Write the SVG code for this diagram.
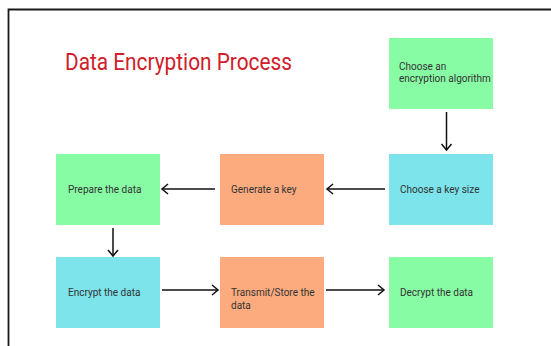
<svg xmlns="http://www.w3.org/2000/svg" width="551" height="346" viewBox="0 0 551 346">
  <style>
    .green { fill: #88fca4; }
    .orange { fill: #fbab7e; }
    .cyan { fill: #7ce4ea; }
    .label { font-family: Roboto, "Liberation Sans", sans-serif; font-size: 10px; fill: #333333; }
    .title { font-family: Roboto, "Liberation Sans", sans-serif; font-size: 24px; fill: #d0202a; }
    .frame { fill: none; stroke: #1a1a1a; stroke-width: 1.8; }
    .link { fill: none; stroke: #111111; stroke-width: 1.5; marker-end: url(#head); }
  </style>
  <defs>
    <marker id="head" viewBox="-8 -7 10 14" refX="0" refY="0" markerWidth="10" markerHeight="14" markerUnits="userSpaceOnUse" orient="auto">
      <path d="M-6,-5 L0,0 L-6,5" fill="none" stroke="#111111" stroke-width="1.5"/>
    </marker>
  </defs>

  <rect width="551" height="346" fill="#ffffff"/>
  <path class="frame" d="M8.5,346 V9.5 H551"/>

  <text class="title" x="65" y="70" textLength="227" lengthAdjust="spacingAndGlyphs">Data Encryption Process</text>

  <g id="choose-algorithm">
    <rect class="green" x="389" y="38" width="104" height="71"/>
    <text class="label" x="399" y="70">Choose an</text>
    <text class="label" x="399" y="82">encryption algorithm</text>
  </g>

  <g id="choose-key-size">
    <rect class="cyan" x="389" y="154" width="104" height="71"/>
    <text class="label" x="400" y="193">Choose a key size</text>
  </g>

  <g id="generate-key">
    <rect class="orange" x="220" y="154" width="104" height="71"/>
    <text class="label" x="231" y="193">Generate a key</text>
  </g>

  <g id="prepare-data">
    <rect class="green" x="56" y="154" width="104" height="71"/>
    <text class="label" x="68" y="193">Prepare the data</text>
  </g>

  <g id="encrypt-data">
    <rect class="cyan" x="56" y="257" width="104" height="71"/>
    <text class="label" x="68" y="296">Encrypt the data</text>
  </g>

  <g id="transmit-store">
    <rect class="orange" x="220" y="257" width="104" height="71"/>
    <text class="label" x="231" y="296">Transmit/Store the</text>
    <text class="label" x="231" y="309">data</text>
  </g>

  <g id="decrypt-data">
    <rect class="green" x="389" y="257" width="104" height="71"/>
    <text class="label" x="400" y="296">Decrypt the data</text>
  </g>

  <g id="connectors">
    <path class="link" d="M446.5,112 V150"/>
    <path class="link" d="M385,189 H327"/>
    <path class="link" d="M215,189 H162"/>
    <path class="link" d="M113,228 V256"/>
    <path class="link" d="M162,290 H218"/>
    <path class="link" d="M326,290 H384"/>
  </g>
</svg>
